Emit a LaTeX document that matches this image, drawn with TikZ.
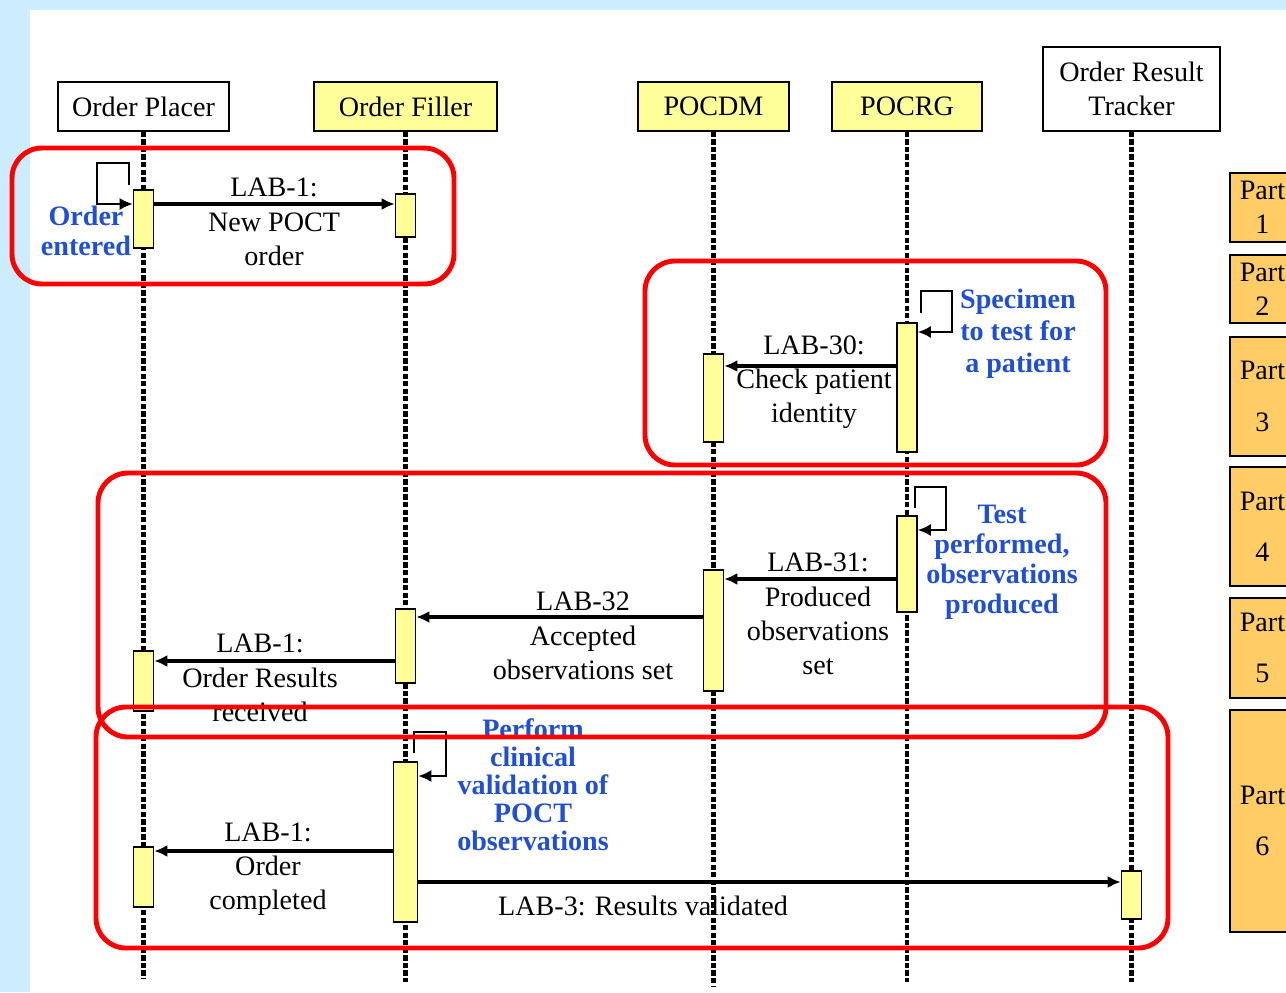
\documentclass[tikz,border=0pt]{standalone}
\usepackage{fontspec}
\setmainfont{Liberation Serif}
\usetikzlibrary{arrows.meta}
\definecolor{bgblue}{HTML}{CCECFF}
\definecolor{actyellow}{HTML}{FFFF99}
\definecolor{partorange}{HTML}{FFCC66}
\definecolor{noteblue}{HTML}{1F4FD6}
\begin{document}
\begin{tikzpicture}[x=0.02cm, y=-0.02cm,
    font=\fontsize{16}{19.5}\selectfont,
    actor/.style={draw, line width=0.9pt, minimum height=0.98cm, inner sep=0, align=center},
    life/.style={line width=2.6pt, dash pattern=on 3pt off 1.3pt},
    act/.style={draw, fill=actyellow, line width=0.9pt, minimum width=0.4cm, inner sep=0, anchor=north},
    msg/.style={line width=2.1pt, -{Latex[length=0.26cm, width=0.24cm]}},
    selfcall/.style={line width=1.1pt, -{Latex[length=0.26cm, width=0.24cm]}},
    lbl/.style={align=center, inner sep=0},
    note/.style={align=center, inner sep=0, text=noteblue, font=\fontsize{16}{17}\selectfont\bfseries},
    part/.style={draw, fill=partorange, line width=0.9pt, minimum width=1.3cm, inner sep=0, align=center},
    phase/.style={draw=red, line width=2.8pt, rounded corners=0.6cm}]
    \useasboundingbox (0,0) rectangle (1286,992);
    \clip (0,0) rectangle (1286,992);
    \fill[bgblue] (0,0) rectangle (1286,992);
    \fill[white] (30,10) rectangle (1286,992);

    \node[actor, fill=white, minimum width=3.42cm] (op) at (143.5,106.5) {Order Placer};
    \node[actor, fill=actyellow, minimum width=3.66cm] (of) at (405.5,106.5) {Order Filler};
    \node[actor, fill=actyellow, minimum width=3.02cm] (dm) at (713.5,106.5) {POCDM};
    \node[actor, fill=actyellow, minimum width=3cm] (rg) at (907,106.5) {POCRG};
    \node[actor, fill=white, minimum width=3.54cm, minimum height=1.68cm] (ort) at (1131.5,89) {Order Result\\Tracker};

    \foreach \a/\e in {op/978, of/982, dm/986, rg/982, ort/982}
        \draw[life] (\a.south) -- (\a.south |- 0,\e);

    \node[act, minimum height=1.16cm] (op1) at (op.south |- 0,189) {};
    \node[act, minimum height=0.86cm] (of1) at (of.south |- 0,193) {};
    \node[act, minimum height=1.76cm] (dm1) at (dm.south |- 0,353) {};
    \node[act, minimum height=2.58cm] (rg1) at (rg.south |- 0,322) {};
    \node[act, minimum height=1.92cm] (rg2) at (rg.south |- 0,515) {};
    \node[act, minimum height=2.42cm] (dm2) at (dm.south |- 0,569) {};
    \node[act, minimum height=1.48cm] (of2) at (of.south |- 0,608) {};
    \node[act, minimum height=1.2cm] (op2) at (op.south |- 0,650) {};
    \node[act, minimum height=3.2cm, minimum width=0.48cm] (of3) at (of.south |- 0,761) {};
    \node[act, minimum height=1.2cm] (op3) at (op.south |- 0,846) {};
    \node[act, minimum height=0.96cm] (ort1) at (ort.south |- 0,870) {};

    \draw[selfcall] ([shift={(-0.08cm,0.08cm)}]op1.north west) |- ++(-32,-22) |- (op1.west |- 0,204);
    \draw[selfcall] ([shift={(0.06cm,0.18cm)}]rg1.north east) |- ++(31,-22) |- (rg1.east |- 0,332);
    \draw[selfcall] ([shift={(-0.06cm,0.14cm)}]rg2.north east) |- ++(31,-21) |- (rg2.east |- 0,530);
    \draw[selfcall] ([shift={(-0.08cm,0.16cm)}]of3.north east) |- ++(32,-21) |- (of3.east |- 0,776);

    \draw[msg] (op1.east |- 0,204) -- (of1.west |- 0,204);
    \draw[msg] (rg1.west |- 0,366) -- (dm1.east |- 0,366);
    \draw[msg] (rg2.west |- 0,579) -- (dm2.east |- 0,579);
    \draw[msg] (dm2.west |- 0,617) -- (of2.east |- 0,617);
    \draw[msg] (of2.west |- 0,661) -- (op2.east |- 0,661);
    \draw[msg] (of3.west |- 0,851) -- (op3.east |- 0,851);
    \draw[msg] (of3.east |- 0,882) -- (ort1.west |- 0,882);

    \node[lbl] (lab1a) at (274,222) {LAB-1:\\New POCT\\order};
    \node[lbl] (lab30) at (814,382) {LAB-30:\\Check patient\\identity};
    \node[lbl] (lab31) at (818,614) {LAB-31:\\Produced\\observations\\set};
    \node[lbl] (lab32) at (583,636) {LAB-32\\Accepted\\observations set};
    \node[lbl] (lab1b) at (260,678) {LAB-1:\\Order Results\\received};
    \node[lbl] (lab1c) at (268,869) {LAB-1:\\Order\\completed};
    \node[lbl] (lab3) at (643,906) {LAB-3: Results validated};

    \node[note] (entered) at (86,231) {Order\\entered};
    \node[note, font=\fontsize{16}{18.2}\selectfont\bfseries] (specimen) at (1018,334) {Specimen\\to test for\\a patient};
    \node[note] (tested) at (1002,562) {Test\\performed,\\observations\\produced};
    \node[note, font=\fontsize{16}{15.9}\selectfont\bfseries] (validate) at (533,785) {Perform\\clinical\\validation of\\POCT\\observations};

    \foreach \n/\t/\b/\g in {1/173/242/0, 2/255/323/0, 3/337/456/0.34, 4/467/586/0.34, 5/598/698/0.34, 6/710/932/0.34} {
        \pgfmathsetmacro\partht{(\b-\t)*0.02}
        \node[part, minimum height=\partht cm] (part\n) at (1262.5,{(\t+\b)/2}) {Part\\[\g cm]\n};
    }

    \draw[phase] (12,148) rectangle (454,284);
    \draw[phase] (645,261) rectangle (1106,465);
    \draw[phase] (98,473) rectangle (1106,737);
    \draw[phase] (96,707) rectangle (1168,948);
\end{tikzpicture}
\end{document}
